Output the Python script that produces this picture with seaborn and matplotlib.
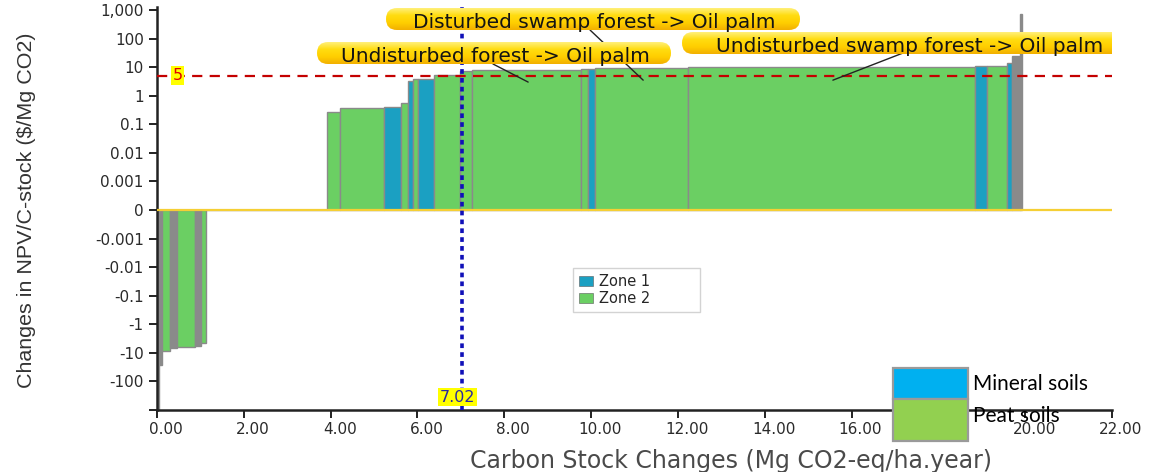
import numpy as np
import matplotlib
matplotlib.use("Agg")
import matplotlib.pyplot as plt
import seaborn as sns
from matplotlib import font_manager
from matplotlib.patches import Patch, Rectangle, FancyBboxPatch
from matplotlib.colors import LinearSegmentedColormap
from matplotlib.transforms import Affine2D, ScaledTranslation, blended_transform_factory

# ---------------------------------------------------------------------------
# Land-use change options, sorted by change in NPV per unit of carbon stock
# ---------------------------------------------------------------------------
zone = ["other", "other", "Zone 2", "other", "Zone 2", "other", "Zone 2", "Zone 2",
        "Zone 2", "Zone 2", "Zone 1", "Zone 2", "Zone 1", "Zone 2", "Zone 1", "Zone 2",
        "Zone 2", "Zone 2", "Zone 2", "Zone 1", "Zone 2", "Zone 2", "Zone 1", "Zone 2",
        "Zone 1", "other", "other"]
carbon_change = [0.04, 0.08, 0.18, 0.17, 0.40, 0.14, 0.12, 2.78,
                 0.30, 1.01, 0.40, 0.17, 0.10, 0.13, 0.35, 0.62,
                 0.27, 2.50, 0.17, 0.16, 2.15, 6.61, 0.28, 0.44,
                 0.13, 0.18, 0.05]
npv_per_c = [-1500, -26, -8.5, -6.5, -6.0, -5.8, -4.4, 0,
             0.27, 0.36, 0.40, 0.54, 3.2, 3.9, 3.9, 5.1,
             7.6, 7.8, 8.3, 8.3, 9.4, 10.2, 11.4, 11.4,
             14, 25, 700]

price_threshold = 5
threshold_label = "5"
carbon_at_threshold = 7.02
carbon_label = "7.02"

y_ticks = [1000, 100, 10, 1, 0.1, 0.01, 0.001, 0,
           -0.001, -0.01, -0.1, -1, -10, -100, -1000]
y_tick_labels = ["1,000", "100", "10", "1", "0.1", "0.01", "0.001", "0",
                 "-0.001", "-0.01", "-0.1", "-1", "-10", "-100", ""]
x_ticks = list(range(0, 23, 2))
x_tick_labels = [f"{v:.2f}" for v in x_ticks]

callouts = ["Disturbed swamp forest -> Oil palm",
            "Undisturbed forest -> Oil palm",
            "Undisturbed swamp forest -> Oil palm"]
callout_targets_x = [11.2, 8.55, 15.57]
callout_targets_y = [3.5, 3.0, 3.5]

zone_legend = ["Zone 1", "Zone 2"]
soil_legend = ["Mineral soils", "Peat soils"]

x_title = "Carbon Stock Changes (Mg CO2-eq/ha.year)"
y_title = "Changes in NPV/C-stock ($/Mg CO2)"

# ---------------------------------------------------------------------------
sns.set_theme(style="ticks")
plt.rcParams["font.family"] = ["DejaVu Sans"]


def has_font(name):
    try:
        font_manager.findfont(font_manager.FontProperties(family=name),
                              fallback_to_default=False)
        return True
    except Exception:
        return False


narrow_family = next((f for f in ["Liberation Sans Narrow", "Liberation Sans",
                                  "Roboto"] if has_font(f)), "DejaVu Sans")

zone_colors = {"Zone 1": "#1ba0c2", "Zone 2": "#6bcf63", "other": "#8a8a8a"}
soil_colors = ["#00b0f0", "#92d050"]

W, H, DPI = 1157, 472, 100
fig = plt.figure(figsize=(W / DPI, H / DPI), dpi=DPI)
# plot area in pixel units (y measured from the top)
L, R, T, B = 157, 1112, 7, 410
ax = fig.add_axes([L / W, (H - B) / H, (R - L) / W, (B - T) / H])

# pixel coordinates (origin bottom-left) for layout elements
pxT = Affine2D().scale(1 / DPI) + fig.dpi_scale_trans


# symmetric decade scale: each decade and the 0..0.001 band get equal height
def fwd(v):
    v = np.asarray(v, dtype=float)
    a = np.abs(v)
    return np.where(a >= 1e-3,
                    np.sign(v) * (np.log10(np.maximum(a, 1e-3)) + 4),
                    v * 1000.0)


def inv(t):
    t = np.asarray(t, dtype=float)
    a = np.abs(t)
    return np.where(a >= 1, np.sign(t) * 10 ** (a - 4), t / 1000.0)


ax.set_yscale("function", functions=(fwd, inv))
ax.set_autoscale_on(False)

widths = np.asarray(carbon_change)
lefts = np.concatenate([[0], np.cumsum(widths)[:-1]])
colors = [zone_colors[z] for z in zone]
ax.bar(lefts, npv_per_c, width=widths, align="edge", color=colors,
       edgecolor="#8a8a8a", linewidth=1.0, zorder=2)

# zero line, price threshold and carbon stock at the threshold
ax.axhline(0, color="#f5cf35", lw=1.6, zorder=3)
ax.axhline(price_threshold, color="#c40000", lw=1.6,
           ls=(0, (4.6, 3.3)), zorder=4)
ax.axvline(carbon_at_threshold, color="#1010b8", lw=2.6,
           ls=(0, (1.3, 1.15)), zorder=5)

bt = blended_transform_factory(ax.transAxes, ax.transData)
ax.text((177.5 - L) / (R - L), price_threshold, threshold_label, transform=bt,
        ha="center", va="center", color="#e00000", fontsize=11.5, zorder=6,
        bbox=dict(boxstyle="square,pad=0.12", fc="#ffff00", ec="none"))
bt2 = blended_transform_factory(ax.transData, ax.transAxes)
ax.text(carbon_at_threshold - 0.1, (B - 397) / (B - T), carbon_label, transform=bt2,
        ha="center", va="center", color="#2a2aa0", fontsize=11.5, zorder=6,
        bbox=dict(boxstyle="square,pad=0.1", fc="#ffff00", ec="none"))

# callout boxes with a yellow-to-amber gradient
grad_cmap = LinearSegmentedColormap.from_list(
    "callout", ["#fff07a", "#ffdc10", "#ffcf00", "#f2b000"])
grad = np.linspace(0, 1, 64)[:, None]
boxes = [(386, 8, 800, 30), (317, 42, 671, 64), (682, 32, 1140, 54)]
text_cx = [594, 495, 910]
leader_start = [(590, 30), (493, 64), (903, 53)]
for text, (x0, y0, x1, y1), cx, (sx, sy), tx, ty in zip(
        callouts, boxes, text_cx, leader_start, callout_targets_x, callout_targets_y):
    ax.annotate("", xy=(tx, ty), xycoords="data",
                xytext=(sx, H - sy), textcoords=pxT,
                arrowprops=dict(arrowstyle="-", color="#222222", lw=1.0,
                                shrinkA=0, shrinkB=0), zorder=7)
    h = y1 - y0
    patch = FancyBboxPatch((x0, H - y1), x1 - x0, h,
                           boxstyle=f"round,pad=0,rounding_size={h / 2}",
                           transform=pxT, fc="none", ec="none", zorder=8)
    ax.add_patch(patch)
    im = ax.imshow(grad, cmap=grad_cmap, extent=(x0, x1, H - y1, H - y0),
                   transform=pxT, aspect="auto", origin="upper", zorder=8,
                   interpolation="bilinear")
    im.set_clip_path(patch)
    ax.text(cx, H - (y0 + y1) / 2 - 1, text, transform=pxT, ha="center",
            va="center_baseline", fontsize=14.5, color="#141414", zorder=9,
            clip_on=True)

# axes, ticks and labels
ax.set_xlim(0, 22)
ax.set_ylim(-1000, float(inv(7 + 3 / ((B - 10) / 14.0))))
ax.set_xticks(x_ticks)
ax.set_xticklabels(x_tick_labels)
ax.set_yticks(y_ticks)
ax.set_yticklabels(y_tick_labels)
ax.minorticks_off()
ax.tick_params(axis="both", direction="out", length=6, width=1.4,
               color="#222222", labelcolor="#2a2a2a", labelsize=11)
ax.tick_params(axis="x", pad=3)
for lab in ax.get_xticklabels():
    lab.set_transform(lab.get_transform() +
                      ScaledTranslation(9 / DPI, 0, fig.dpi_scale_trans))
for s in ["top", "right"]:
    ax.spines[s].set_visible(False)
for s in ["left", "bottom"]:
    ax.spines[s].set_color("#222222")
    ax.spines[s].set_linewidth(1.8)
ax.grid(False)
ax.set_facecolor("white")

ax.set_xlabel(x_title, fontsize=17, color="#4a4a4a")
ax.xaxis.set_label_coords((731 - L) / (R - L), (B - 461) / (B - T))
ax.xaxis.label.set_va("center")

ylab = ax.set_ylabel(y_title, fontsize=18, family=narrow_family, color="#333333")
ax.yaxis.set_label_coords((27 - L) / (R - L), (B - 210) / (B - T))
ax.yaxis.label.set_va("center")
# fit the vertical title to the height it occupies (about 355 px)
renderer = fig.canvas.get_renderer()
ext = ylab.get_window_extent(renderer)
ylab.set_fontsize(min(18, 18 * 355 / ext.height))

# zone legend
handles = [Patch(facecolor=zone_colors[z], edgecolor="#5a5a5a", lw=0.4)
           for z in zone_legend]
leg = ax.legend(handles, zone_legend, loc="upper left",
                bbox_to_anchor=((573 - L) / (R - L), (B - 310) / (B - T),
                                127 / (R - L), 42 / (B - T)),
                mode="expand", fontsize=10.5, frameon=True, fancybox=False,
                borderpad=0.4, labelspacing=0.15, handlelength=1.0,
                handleheight=0.65, handletextpad=0.4, borderaxespad=0)
leg.get_frame().set_edgecolor("#c8c8c8")
leg.get_frame().set_linewidth(1.0)
leg.set_zorder(10)

# soil type key
soil_boxes = [(893, 368, 968, 399), (893, 399, 968, 441)]
soil_text_y = [384, 416]
for label, col, (x0, y0, x1, y1), ty in zip(soil_legend, soil_colors,
                                           soil_boxes, soil_text_y):
    fig.add_artist(Rectangle((x0, H - y1), x1 - x0, y1 - y0, transform=pxT,
                             fc=col, ec="#9a9a9a", lw=1.6, zorder=20))
    fig.text(973, H - ty, label, transform=pxT, ha="left", va="center",
             fontsize=15, family=["Lato", "DejaVu Sans"], color="#000000",
             zorder=21)

fig.savefig("out.png", dpi=DPI, facecolor="white")
